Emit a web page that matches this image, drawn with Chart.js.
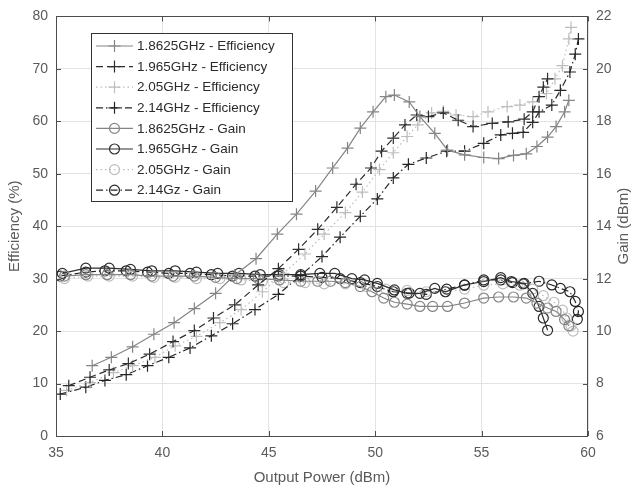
<!DOCTYPE html>
<html><head><meta charset="utf-8">
<script src="https://cdn.jsdelivr.net/npm/chart.js@4.4.0/dist/chart.umd.min.js"></script>
<style>html,body{margin:0;padding:0;background:#fff;}#wrap{width:637px;height:490px;}</style>
</head><body><div id="wrap"><canvas id="c" width="637" height="490"></canvas></div>
<script>
// ---- data ----
const seriesLabels = ["1.8625GHz - Efficiency","1.965GHz - Efficiency","2.05GHz - Efficiency","2.14GHz - Efficiency",
  "1.8625GHz - Gain","1.965GHz - Gain","2.05GHz - Gain","2.14Gz - Gain"];
const xTicks = [35,40,45,50,55,60];
const effTicks = [0,10,20,30,40,50,60,70,80];
const gainTicks = [6,8,10,12,14,16,18,20,22];

const poutEff1 = [36.7,37.6,38.6,39.6,40.55,41.5,42.5,43.4,44.4,45.4,46.3,47.2,48.0,48.7,49.3,49.9,50.5,50.9,51.6,52.1,52.8,53.4,54.2,55.1,55.8,56.5,57.1,57.6,58.1,58.5,58.9,59.1];
const eff1     = [13.4,15.0,17.0,19.4,21.6,24.3,27.2,30.7,33.8,38.5,42.3,46.7,51.1,54.9,58.7,61.8,64.7,65.0,63.7,60.9,57.7,54.5,53.6,53.1,52.9,53.5,53.8,55.2,57.0,59.0,61.8,64.0];

const poutEff2 = [35.6,36.6,37.5,38.4,39.4,40.5,41.5,42.4,43.4,44.5,45.45,46.4,47.3,48.2,49.1,49.8,50.3,50.85,51.4,51.95,52.5,53.2,53.9,54.6,55.5,56.25,57.0,57.4,57.7,57.9,58.1];
const eff2     = [9.6,11.2,12.6,13.8,15.6,18.0,20.1,22.5,25.0,28.8,31.9,35.6,39.4,43.6,48.0,51.1,54.3,56.8,59.3,61.2,60.9,61.6,60.2,59.0,59.6,59.9,60.4,61.8,64.7,66.5,68.1];

const poutEff3 = [35.5,36.6,37.7,38.6,39.65,40.6,41.6,42.7,43.7,44.7,45.7,46.7,47.6,48.6,49.4,50.2,50.85,51.5,52.0,52.65,53.2,53.8,54.6,55.3,56.2,56.8,57.4,58.05,58.45,58.8,59.1,59.2];
const eff3     = [8.7,10.2,12.1,13.4,15.0,17.2,19.0,21.6,24.1,27.5,31.0,34.7,38.5,42.6,46.5,50.8,54.0,57.1,59.3,61.6,61.9,61.2,60.9,61.8,62.8,63.1,63.7,65.3,68.1,70.6,75.7,77.9];

const poutEff4 = [35.2,36.4,37.3,38.3,39.3,40.3,41.3,42.3,43.3,44.35,45.45,46.5,47.5,48.35,49.3,50.1,50.85,51.56,52.4,53.36,54.2,55.1,55.9,56.45,56.95,57.4,57.7,58.3,58.7,59.15,59.4,59.55];
const eff4     = [8.0,9.3,10.6,11.7,13.4,15.0,16.8,19.1,21.4,24.1,27.0,30.6,34.2,37.9,41.9,45.2,49.2,51.8,53.0,54.3,54.3,55.8,57.4,57.7,57.9,59.8,61.8,63.1,65.9,69.4,72.8,75.7];

const poutGain1 = [35.4,36.4,37.4,38.5,39.5,40.5,41.5,42.5,43.5,44.5,45.5,46.5,47.3,47.9,48.6,49.3,49.85,50.4,50.9,51.5,52.1,52.7,53.4,54.2,55.1,55.8,56.5,57.1,57.6,58.1,58.5,58.9,59.1];
const gain1     = [12.1,12.15,12.15,12.15,12.1,12.1,12.1,12.05,12.0,12.0,11.95,11.9,11.9,11.9,11.85,11.7,11.5,11.26,11.1,11.03,10.94,10.94,10.94,11.07,11.26,11.3,11.3,11.26,11.07,10.88,10.75,10.44,10.2];

const poutGain2 = [35.3,36.4,37.5,38.5,39.5,40.6,41.6,42.6,43.6,44.6,45.5,46.5,47.4,48.1,48.9,49.5,50.1,50.9,51.5,52.1,52.8,53.3,54.2,55.1,55.9,56.4,57.0,57.4,57.7,57.9,58.1];
const gain2     = [12.2,12.4,12.4,12.35,12.3,12.3,12.25,12.2,12.2,12.15,12.15,12.15,12.2,12.2,12.0,11.95,11.82,11.57,11.44,11.44,11.63,11.5,11.76,11.89,12.04,11.89,11.82,11.44,10.94,10.5,10.03];

const poutGain3 = [35.4,36.5,37.5,38.6,39.6,40.6,41.6,42.7,43.7,44.7,45.7,46.7,47.6,48.6,49.6,50.5,51.5,52.4,53.3,54.2,55.1,56.0,56.8,57.4,57.9,58.4,58.8,59.0,59.2,59.3];
const gain3     = [12.0,12.1,12.1,12.1,12.05,12.05,12.0,12.0,11.95,11.9,11.85,11.85,11.8,11.8,11.7,11.6,11.55,11.5,11.5,11.6,11.75,11.8,11.75,11.6,11.35,11.1,10.8,10.5,10.2,10.0];

const poutGain4 = [35.2,36.4,37.3,38.3,39.3,40.3,41.3,42.3,43.3,44.35,45.45,46.5,47.5,48.35,49.3,50.1,50.85,51.6,52.4,53.36,54.2,55.1,55.9,56.45,56.95,57.7,58.3,58.7,59.15,59.4,59.55,59.5];
const gain4     = [12.1,12.25,12.3,12.3,12.25,12.2,12.2,12.15,12.1,12.1,12.1,12.1,12.05,12.0,11.85,11.7,11.5,11.45,11.4,11.6,11.75,11.95,11.95,11.85,11.8,11.9,11.76,11.63,11.5,11.13,10.75,10.45];

// ---- styles ----
const C1 = '#858585', C2 = '#2e2e2e', C3 = '#bdbdbd', C4 = '#262626';
const dashes = [[], [7,4], [1.5,3], [7,3,1.5,3]];

function pts(xs, ys){ return xs.map((x,i)=>({x:x, y:ys[i]})); }
function mk(label, xs, ys, color, dash, isGain){
  return {
    label: label, data: pts(xs, ys), yAxisID: isGain ? 'y1' : 'y',
    borderColor: color, borderWidth: 1.2, borderDash: dash,
    pointStyle: isGain ? 'circle' : 'cross', pointRadius: isGain ? 5 : 6,
    pointBorderColor: color, pointBackgroundColor: 'rgba(0,0,0,0)', pointBorderWidth: 1.2,
    pointHoverRadius: 0, tension: 0, fill: false
  };
}
const datasets = [
  mk(seriesLabels[0], poutEff1, eff1, C1, dashes[0], false),
  mk(seriesLabels[1], poutEff2, eff2, C2, dashes[1], false),
  mk(seriesLabels[2], poutEff3, eff3, C3, dashes[2], false),
  mk(seriesLabels[3], poutEff4, eff4, C4, dashes[3], false),
  mk(seriesLabels[4], poutGain1, gain1, C1, dashes[0], true),
  mk(seriesLabels[5], poutGain2, gain2, C2, dashes[0], true),
  mk(seriesLabels[6], poutGain3, gain3, C3, dashes[2], true),
  mk(seriesLabels[7], poutGain4, gain4, C4, dashes[3], true)
];

const FONT = '"Liberation Sans", Arial, sans-serif';
const TXT = '#5a5a5a';

const overlay = {
  id: 'overlay',
  afterDraw(chart){
    const ctx = chart.ctx, a = chart.chartArea;
    ctx.save();
    // box
    ctx.strokeStyle = '#4d4d4d'; ctx.lineWidth = 1; ctx.setLineDash([]);
    ctx.strokeRect(Math.round(a.left)+0.5, Math.round(a.top)+0.5, Math.round(a.right-a.left)-1, Math.round(a.bottom-a.top));
    // inward ticks
    const xs = chart.scales.x, yl = chart.scales.y, yr = chart.scales.y1;
    ctx.beginPath();
    xTicks.forEach(v=>{ const p = Math.round(xs.getPixelForValue(v))+0.5; ctx.moveTo(p,a.bottom); ctx.lineTo(p,a.bottom-5); ctx.moveTo(p,a.top); ctx.lineTo(p,a.top+5);});
    effTicks.forEach(v=>{ const p = Math.round(yl.getPixelForValue(v))+0.5; ctx.moveTo(a.left,p); ctx.lineTo(a.left+5,p);});
    gainTicks.forEach(v=>{ const p = Math.round(yr.getPixelForValue(v))+0.5; ctx.moveTo(a.right,p); ctx.lineTo(a.right-5,p);});
    ctx.stroke();
    // axis titles
    ctx.fillStyle = TXT; ctx.font = '15px ' + FONT; ctx.textAlign = 'center'; ctx.textBaseline = 'middle';
    ctx.fillText('Output Power (dBm)', (a.left+a.right)/2, 478);
    ctx.save(); ctx.translate(15, (a.top+a.bottom)/2); ctx.rotate(-Math.PI/2); ctx.fillText('Efficiency (%)', 0, 0); ctx.restore();
    ctx.save(); ctx.translate(624, (a.top+a.bottom)/2); ctx.rotate(-Math.PI/2); ctx.fillText('Gain (dBm)', 0, 0); ctx.restore();
    // legend
    const bx = 91, by = 33, bw = 201, bh = 168;
    ctx.fillStyle = '#fff'; ctx.fillRect(bx, by, bw, bh);
    ctx.strokeStyle = '#333'; ctx.lineWidth = 1; ctx.strokeRect(bx+0.5, by+0.5, bw, bh);
    ctx.font = '13.5px ' + FONT; ctx.textAlign = 'left'; ctx.fillStyle = '#2b2b2b';
    datasets.forEach((d,i)=>{
      const y = 46 + i*20.6;
      ctx.strokeStyle = d.borderColor; ctx.lineWidth = 1.2; ctx.setLineDash(d.borderDash);
      ctx.beginPath(); ctx.moveTo(96, y); ctx.lineTo(133, y); ctx.stroke();
      ctx.setLineDash([]);
      ctx.beginPath();
      if (d.pointStyle === 'cross'){ ctx.moveTo(114.5, y-6); ctx.lineTo(114.5, y+6); ctx.moveTo(108.5, y); ctx.lineTo(120.5, y); }
      else { ctx.arc(114.5, y, 5, 0, Math.PI*2); }
      ctx.stroke();
      ctx.fillText(d.label, 137, y+0.5);
    });
    ctx.restore();
  }
};

new Chart(document.getElementById('c'), {
  type: 'line',
  data: { datasets: datasets },
  options: {
    responsive: false, animation: false, devicePixelRatio: 1,
    layout: { padding: { top: 12, left: 0, right: 0, bottom: 0 } },
    plugins: { legend: { display: false }, tooltip: { enabled: false } },
    scales: {
      x: { type: 'linear', min: 35, max: 60,
        afterBuildTicks: s => { s.ticks = xTicks.map(v=>({value:v})); },
        afterFit: s => { s.height = 54; },
        grid: { color: '#e3e3e3', drawTicks: false, lineWidth: 1 },
        border: { display: false },
        ticks: { color: TXT, font: { size: 14, family: FONT }, padding: 9, maxRotation: 0 } },
      y: { type: 'linear', position: 'left', min: 0, max: 80,
        afterBuildTicks: s => { s.ticks = effTicks.map(v=>({value:v})); },
        afterFit: s => { s.width = 56; },
        grid: { color: '#e3e3e3', drawTicks: false },
        border: { display: false },
        ticks: { color: TXT, font: { size: 14, family: FONT }, padding: 8 } },
      y1: { type: 'linear', position: 'right', min: 6, max: 22,
        afterBuildTicks: s => { s.ticks = gainTicks.map(v=>({value:v})); },
        afterFit: s => { s.width = 49; },
        grid: { display: false, drawTicks: false },
        border: { display: false },
        ticks: { color: TXT, font: { size: 14, family: FONT }, padding: 8 } }
    }
  },
  plugins: [overlay]
});
</script></body></html>
